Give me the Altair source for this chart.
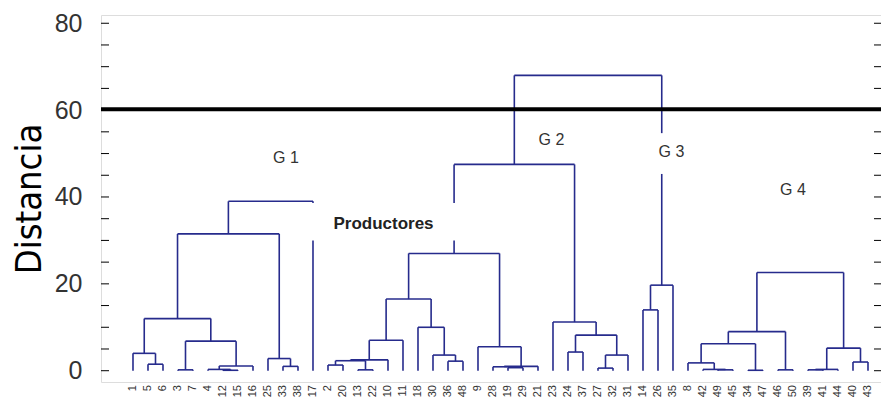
import altair as alt
import pandas as pd

# ---- data -------------------------------------------------------------
leaf_labels = ["1", "5", "6", "3", "7", "4", "12", "15", "16", "25", "33", "38", "17",
               "2", "20", "13", "22", "10", "11", "18", "30", "36", "48", "9", "28", "19",
               "29", "21", "23", "24", "37", "27", "32", "31",
               "14", "26", "35",
               "8", "42", "49", "45", "34", "47", "46", "50", "39", "41", "44", "40", "43"]

merge_name = ["m1", "m2", "m3", "m4", "m5", "m6", "m7", "m8", "m9", "m10", "m11", "G1",
              "A", "B", "C", "X", "P", "S", "T", "Q", "R", "Y0", "Y1", "Y", "W", "R27",
              "V1", "V2", "V3", "V4", "V5", "G2",
              "c1", "G3",
              "a0", "a", "b", "c", "d", "e", "f", "g0", "g", "h", "j", "G4",
              "TOP"]
merge_left = ["5", "1", "3", "12", "4", "m5", "m3", "m2", "33", "25", "m8", "m11",
              "2", "13", "A", "C", "X", "36", "30", "18", "P", "19", "28", "Y1", "9", "R",
              "24", "27", "V2", "V1", "23", "R27",
              "14", "c1",
              "49", "42", "8", "34", "b", "46", "d", "39", "g0", "40", "g", "f",
              "G2"]
merge_right = ["6", "m1", "7", "15", "m4", "16", "m6", "m7", "38", "m9", "m10", "17",
               "20", "22", "B", "10", "11", "48", "S", "T", "Q", "29", "Y0", "21", "Y", "W",
               "37", "32", "31", "V3", "V4", "V5",
               "26", "35",
               "45", "a0", "a", "47", "c", "50", "e", "41", "44", "43", "h", "j",
               "G3"]
merge_height = [1.5, 4.0, 0.2, 0.1, 0.3, 1.1, 6.8, 12.0, 1.0, 2.8, 31.5, 39.0,
                1.3, 0.2, 2.3, 2.5, 7.0, 2.2, 3.6, 10.0, 16.5, 0.7, 0.9, 1.0, 5.5, 27.0,
                4.3, 0.6, 3.6, 8.2, 11.2, 47.5,
                14.0, 19.7,
                0.2, 0.3, 1.8, 0.1, 6.2, 0.2, 9.0, 0.2, 0.3, 2.0, 5.2, 22.6,
                68.0]

y_ticks = [0, 20, 40, 60, 80]
minor_ticks = list(range(0, 81, 5))
cut_level = [60.2]

ann_text = ["G 1", "G 2", "G 3", "G 4"]
ann_x = [10.2, 27.9, 35.9, 44.0]
ann_y = [49.0, 53.2, 50.4, 41.7]
prod_text = ["Productores"]
prod_x = [16.7]
prod_y = [33.8]

gap_x = [11.8, 34.85]
gap_x2 = [21.7, 35.6]
gap_y = [30.0, 45.3]
gap_y2 = [38.6, 54.7]

# ---- build dendrogram segments -----------------------------------------
pos = {lab: float(i) for i, lab in enumerate(leaf_labels)}
hgt = {lab: 0.0 for lab in leaf_labels}
segs = []
for name, l, r, h in zip(merge_name, merge_left, merge_right, merge_height):
    xl, xr = pos[l], pos[r]
    segs.append({"x": xl, "x2": xl, "y": hgt[l], "y2": h})
    segs.append({"x": xr, "x2": xr, "y": hgt[r], "y2": h})
    segs.append({"x": xl, "x2": xr, "y": h, "y2": h})
    pos[name] = (xl + xr) / 2
    hgt[name] = h
seg_df = pd.DataFrame(segs)
leaf_df = pd.DataFrame({"idx": list(range(len(leaf_labels))), "lab": leaf_labels})

W_PLOT, H_PLOT = 780, 367
xdom = [-2.133, -2.133 + W_PLOT / 15.0]
ydom = [-2.6, 81.9]

xs = alt.Scale(domain=xdom, nice=False, zero=False)
ys = alt.Scale(domain=ydom, nice=False, zero=False)

lines = alt.Chart(seg_df).mark_rule(color="#262b8c", strokeWidth=1.6).encode(
    x=alt.X("x:Q", scale=xs, axis=None),
    x2="x2:Q",
    y=alt.Y("y:Q", scale=ys,
            axis=alt.Axis(values=y_ticks, labelFontSize=25, labelColor="#333333",
                          labelFont="Liberation Sans", labelPadding=19, tickSize=0,
                          ticks=False, domain=False, grid=False,
                          title="Distancia", titleFontSize=36,
                          titleFont="Liberation Sans Narrow, DejaVu Sans Condensed, Liberation Sans",
                          titleFontWeight="normal",
                          titleColor="#000000", titlePadding=6)),
    y2="y2:Q",
)

xlabels = alt.Chart(leaf_df).mark_text(
    angle=270, align="right", baseline="middle", fontSize=11,
    font="Liberation Sans", color="#333333").encode(
    x=alt.X("idx:Q", scale=xs), y=alt.value(H_PLOT + 3), text="lab:N")

gaps = alt.Chart(pd.DataFrame({"x": gap_x, "x2": gap_x2, "y": gap_y, "y2": gap_y2})).mark_rect(
    color="white").encode(x="x:Q", x2="x2:Q", y="y:Q", y2="y2:Q")

cut = alt.Chart(pd.DataFrame({"v": cut_level})).mark_rule(color="black", strokeWidth=4).encode(
    y="v:Q")

tick_df = pd.DataFrame({"v": minor_ticks})
ticks_l = alt.Chart(tick_df).mark_rule(color="black", strokeWidth=1).encode(
    y="v:Q", x=alt.value(0), x2=alt.value(8))
ticks_r = alt.Chart(tick_df).mark_rule(color="black", strokeWidth=1).encode(
    y="v:Q", x=alt.value(W_PLOT - 7), x2=alt.value(W_PLOT))

ann = alt.Chart(pd.DataFrame({"t": ann_text, "x": ann_x, "y": ann_y})).mark_text(
    font="Liberation Sans", fontSize=16, color="#333333").encode(
    x="x:Q", y="y:Q", text="t:N")

prod = alt.Chart(pd.DataFrame({"t": prod_text, "x": prod_x, "y": prod_y})).mark_text(
    font="Liberation Sans", fontSize=17, fontWeight="bold", color="#222222").encode(
    x="x:Q", y="y:Q", text="t:N")

chart = alt.layer(lines, gaps, cut, ticks_l, ticks_r, ann, prod, xlabels).properties(
    width=W_PLOT, height=H_PLOT,
    autosize=alt.AutoSizeParams(type="none"),
    padding={"left": 93, "top": 7, "right": 0, "bottom": 18},
).configure_view(stroke="black", strokeWidth=1).configure(background="white")

chart.save("out.html", embed_options={"renderer": "svg", "actions": False})
